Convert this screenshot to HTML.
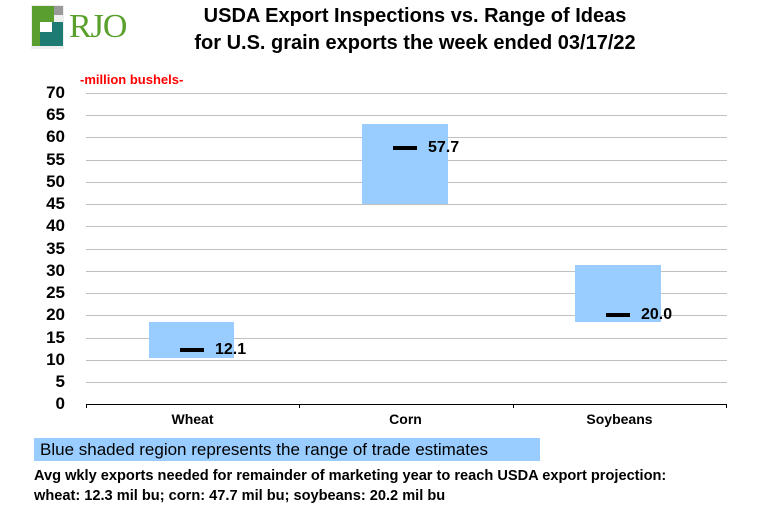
<!DOCTYPE html>
<html><head><style>
body{margin:0;width:763px;height:516px;background:#fff;position:relative;overflow:hidden;font-family:"Liberation Sans",Arial,sans-serif}
.a{position:absolute}
.t{font-weight:bold;font-size:20px;text-align:center;width:763px;left:-(0)px}
.yl{font-weight:bold;font-size:17px;right:698px;text-align:right}
.g{height:1px;background:#c0c0c0;left:86px;width:641px}
.bar{background:#99ccff}
.m{background:#000;height:4px;width:24px}
.v{font-weight:bold;font-size:16px}
.c{font-weight:bold;font-size:14px;width:213px;text-align:center;top:411px}
</style></head><body>
<div class="a" style="left:31px;top:5px;width:33px;height:44px;background:#eee"></div>
<div class="a" style="left:32px;top:6px;width:22px;height:40px;background:#5a9e2f"></div>
<div class="a" style="left:54px;top:6px;width:9px;height:9px;background:#999"></div>
<div class="a" style="left:40px;top:22px;width:23px;height:24px;background:#1e7b73"></div>
<div class="a" style="left:40px;top:22px;width:12px;height:10px;background:#fff"></div>
<div class="a" style="left:69px;top:8px;font-family:'Liberation Serif',serif;font-size:34px;color:#5aa02c;letter-spacing:-1px">RJO</div>
<div class="a t" style="top:5px;left:0;padding-left:67px;width:696px">USDA Export Inspections vs. Range of Ideas</div>
<div class="a t" style="top:32px;left:0;padding-left:67px;width:696px">for U.S. grain exports the week ended 03/17/22</div>
<div class="a" style="left:80px;top:72px;color:#f00;font-weight:bold;font-size:13px">-million bushels-</div>
<div class="a g" style="top:93px"></div><div class="a g" style="top:115px"></div><div class="a g" style="top:137px"></div><div class="a g" style="top:160px"></div><div class="a g" style="top:182px"></div><div class="a g" style="top:204px"></div><div class="a g" style="top:226px"></div><div class="a g" style="top:249px"></div><div class="a g" style="top:271px"></div><div class="a g" style="top:293px"></div><div class="a g" style="top:315px"></div><div class="a g" style="top:338px"></div><div class="a g" style="top:360px"></div><div class="a g" style="top:382px"></div>
<div class="a" style="left:86px;top:404px;width:641px;height:1px;background:#000"></div>
<div class="a" style="left:86px;top:404px;width:1px;height:4px;background:#000"></div>
<div class="a" style="left:299px;top:404px;width:1px;height:4px;background:#000"></div>
<div class="a" style="left:513px;top:404px;width:1px;height:4px;background:#000"></div>
<div class="a" style="left:726px;top:404px;width:1px;height:4px;background:#000"></div>
<div class="a yl" style="top:83px">70</div><div class="a yl" style="top:105px">65</div><div class="a yl" style="top:127px">60</div><div class="a yl" style="top:150px">55</div><div class="a yl" style="top:172px">50</div><div class="a yl" style="top:194px">45</div><div class="a yl" style="top:216px">40</div><div class="a yl" style="top:239px">35</div><div class="a yl" style="top:261px">30</div><div class="a yl" style="top:283px">25</div><div class="a yl" style="top:305px">20</div><div class="a yl" style="top:328px">15</div><div class="a yl" style="top:350px">10</div><div class="a yl" style="top:372px">5</div><div class="a yl" style="top:394px">0</div>
<div class="a bar" style="left:149px;top:322px;width:85px;height:36px"></div>
<div class="a bar" style="left:362px;top:124px;width:86px;height:80px"></div>
<div class="a bar" style="left:575px;top:265px;width:86px;height:57px"></div>
<div class="a m" style="left:180px;top:348px"></div><div class="a v" style="left:215px;top:341px">12.1</div>
<div class="a m" style="left:393px;top:146px"></div><div class="a v" style="left:428px;top:139px">57.7</div>
<div class="a m" style="left:606px;top:313px"></div><div class="a v" style="left:641px;top:306px">20.0</div>
<div class="a c" style="left:86px">Wheat</div><div class="a c" style="left:299px">Corn</div><div class="a c" style="left:513px">Soybeans</div>
<div class="a" style="left:34px;top:438px;width:506px;height:23px;background:#99ccff"></div>
<div class="a" style="left:40px;top:440px;font-size:17px">Blue shaded region represents the range of trade estimates</div>
<div class="a" style="left:34px;top:468px;font-size:14.6px;font-weight:bold">Avg wkly exports needed for remainder of marketing year to reach USDA export projection:</div>
<div class="a" style="left:34px;top:488px;font-size:14.6px;font-weight:bold">wheat: 12.3 mil bu; corn: 47.7 mil bu; soybeans: 20.2 mil bu</div>
</body></html>
